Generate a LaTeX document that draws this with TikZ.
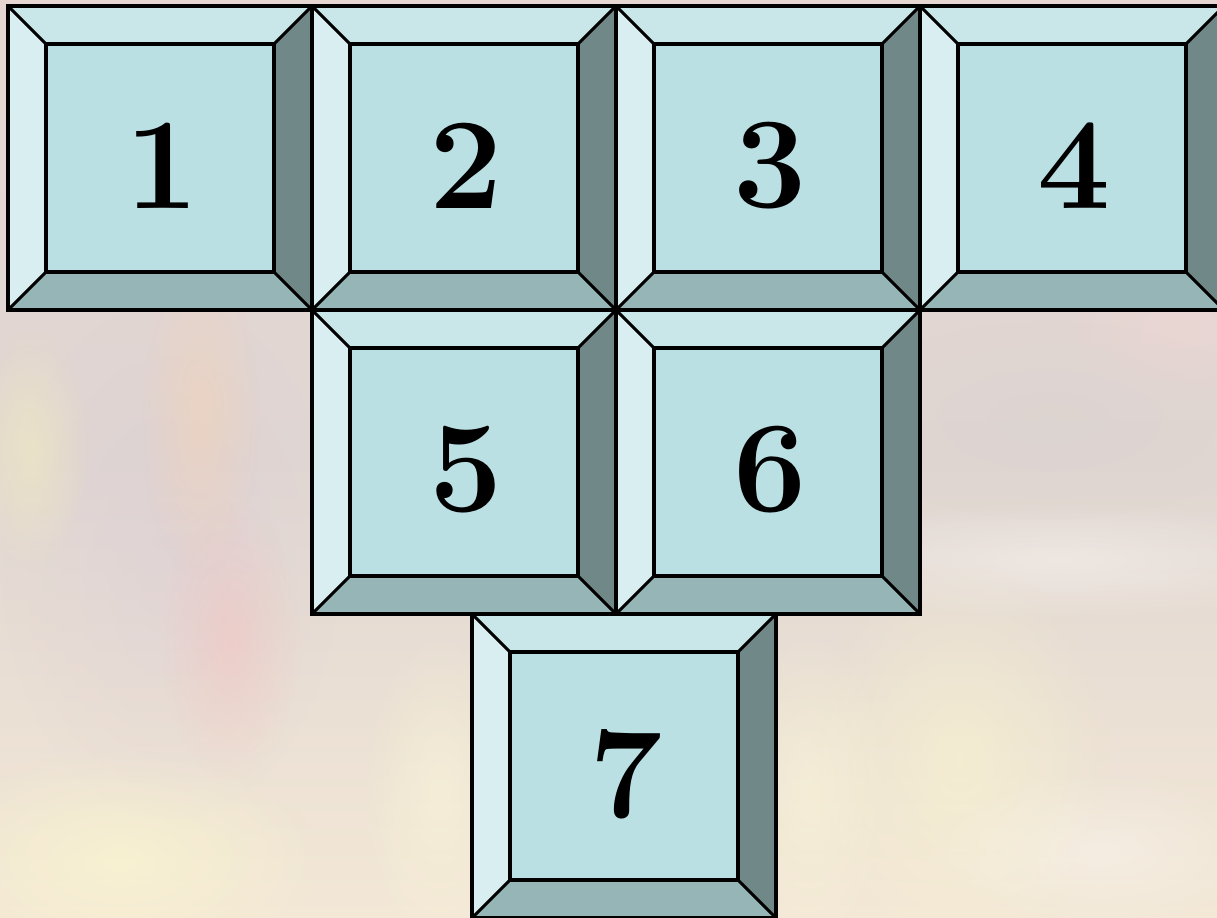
\documentclass[tikz,border=0pt]{standalone}
\usetikzlibrary{fadings}
\tikzfading[name=softblob, inner color=transparent!0, outer color=transparent!100]
\definecolor{bgtop}{HTML}{E6D6D2}
\definecolor{bgmid}{HTML}{E0D6D2}
\definecolor{bgbot}{HTML}{F3E8D6}
\definecolor{topc}{HTML}{C9E6E9}
\definecolor{leftc}{HTML}{D8EEF1}
\definecolor{rightc}{HTML}{718889}
\definecolor{botc}{HTML}{96B5B7}
\definecolor{facec}{HTML}{BBE0E3}
\tikzset{
  edge/.style={draw=black,line width=0.9pt,line join=miter},
  blob/.style={path fading=softblob},
  digit/.style={font=\fontsize{37}{37}\selectfont\bfseries,text=black,inner sep=0pt}
}
\newcommand\tile[4]{%
  \fill[topc] (#2,#3) -- (#2+304,#3) -- (#2+266,#3+38) -- (#2+38,#3+38) -- cycle;
  \fill[leftc] (#2,#3) -- (#2+38,#3+38) -- (#2+38,#3+266) -- (#2,#3+304) -- cycle;
  \fill[rightc] (#2+304,#3) -- (#2+304,#3+304) -- (#2+266,#3+266) -- (#2+266,#3+38) -- cycle;
  \fill[botc] (#2,#3+304) -- (#2+304,#3+304) -- (#2+266,#3+266) -- (#2+38,#3+266) -- cycle;
  \fill[facec] (#2+38,#3+38) rectangle (#2+266,#3+266);
  \draw[edge] (#2,#3) rectangle (#2+304,#3+304);
  \draw[edge] (#2+38,#3+38) rectangle (#2+266,#3+266);
  \draw[edge] (#2,#3) -- (#2+38,#3+38) (#2+304,#3) -- (#2+266,#3+38)
              (#2,#3+304) -- (#2+38,#3+266) (#2+304,#3+304) -- (#2+266,#3+266);
  \node[digit] (#1) at (#2+154,#3+160) {#4};
}
\begin{document}
\begin{tikzpicture}[x=0.01cm,y=-0.01cm]
\useasboundingbox (0,0) rectangle (1217,918);
\clip (0,0) rectangle (1217,918);
% background
\shade[top color=bgtop,bottom color=bgbot,middle color=bgmid] (0,0) rectangle (1217,918);
\fill[blob,color=gray!60!violet!30,opacity=0.35] (170,560) ellipse (170 and 260);
\fill[blob,color=orange!35,opacity=0.35] (200,420) ellipse (60 and 160);
\fill[blob,color=red!30,opacity=0.3] (230,640) ellipse (70 and 140);
\fill[blob,color=yellow!30,opacity=0.35] (30,450) ellipse (60 and 120);
\fill[blob,color=yellow!20,opacity=0.5] (120,860) ellipse (200 and 110);
\fill[blob,color=white,opacity=0.35] (1060,560) ellipse (300 and 60);
\fill[blob,color=gray!40,opacity=0.2] (1050,420) ellipse (220 and 100);
\fill[blob,color=yellow!20,opacity=0.4] (960,760) ellipse (150 and 200);
\fill[blob,color=white,opacity=0.3] (1100,850) ellipse (180 and 80);
\fill[blob,color=red!15,opacity=0.25] (1180,330) ellipse (120 and 80);
\fill[blob,color=yellow!15,opacity=0.4] (810,790) ellipse (80 and 160);
\fill[blob,color=yellow!15,opacity=0.4] (440,790) ellipse (80 and 160);
% tiles
\tile{t1}{8}{6}{1}
\tile{t2}{312}{6}{2}
\tile{t3}{616}{6}{3}
\tile{t4}{920}{6}{4}
\tile{t5}{312}{310}{5}
\tile{t6}{616}{310}{6}
\tile{t7}{472}{614}{7}
\end{tikzpicture}
\end{document}
